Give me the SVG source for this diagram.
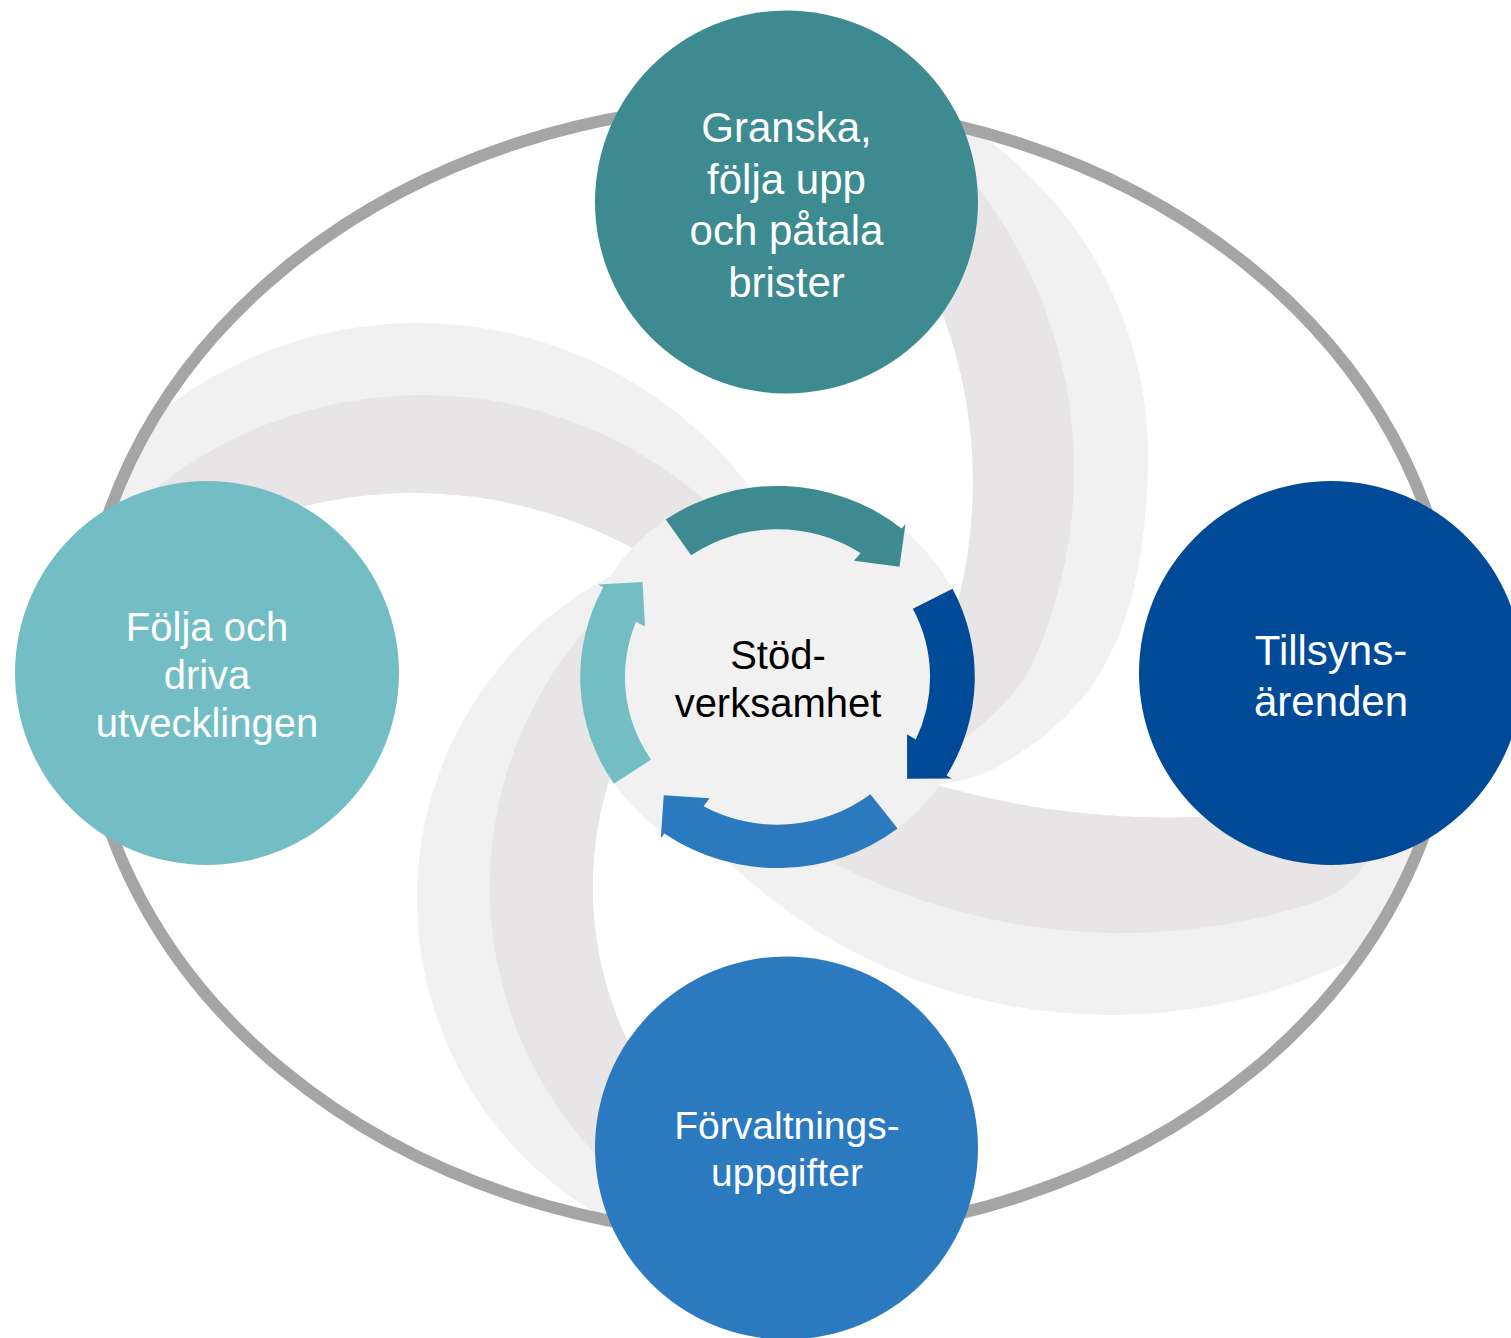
<svg xmlns="http://www.w3.org/2000/svg" width="1511" height="1338" viewBox="0 0 1511 1338">
<defs>
<style>
.lt{fill:#f1f1f1}
.dk{fill:#e7e5e6}
.lbl{font-family:"Liberation Sans",Arial,sans-serif;fill:#ffffff;text-anchor:middle}
.ctr{font-family:"Liberation Sans",Arial,sans-serif;fill:#000000;text-anchor:middle;font-size:40px}
</style>
<clipPath id="ell"><ellipse cx="768" cy="670" rx="686" ry="566"/></clipPath>
</defs>
<rect width="1511" height="1338" fill="#ffffff"/>
<g id="swirl" clip-path="url(#ell)">
<path class="lt" d="M41.8,560 A417,417 0 0 1 780,533 L700,592.4 A461,461 0 0 0 230,531.3 Z"/>
<path class="dk" d="M83.9,560 A431,431 0 0 1 760,557.3 L700,592.4 A461,461 0 0 0 230,531.3 Z"/>
<path class="lt" d="M930,105 A393,393 0 0 1 1148,470 C1143,620 1105.1,707 1000,765 Q975,782 920,786 L921.2,700 A484.6,484.6 0 0 0 933.3,290 Z"/>
<path class="dk" d="M930,134 A466.5,466.5 0 0 1 1033,662.2 Q1012.5,707.6 940,756 L890,760 L921.2,700 A484.6,484.6 0 0 0 933.3,290 Z"/>
<path class="lt" d="M700,832.8 A553.8,553.8 0 0 0 1450,898.8 L1500,760 L1400,760 L1260,812.6 A835.7,835.7 0 0 1 880,766.4 Z"/>
<path class="dk" d="M760,818 A625.6,625.6 0 0 0 1322,900 Q1365,880 1375,840 L1260,812.6 A835.7,835.7 0 0 1 880,766.4 Z"/>
<path class="lt" d="M640,561.9 A365.8,365.8 0 0 0 640,1235.5 L680,1121.4 A358,358 0 0 1 680,652.8 Z"/>
<path class="dk" d="M680,550.5 A391.9,391.9 0 0 0 680,1222.5 L680,1121.4 A358,358 0 0 1 680,652.8 Z"/>
</g>
<ellipse id="frame" cx="768" cy="670" rx="686" ry="566" fill="none" stroke="#a5a5a5" stroke-width="12"/>
<ellipse id="hub-disc" cx="777.5" cy="677" rx="197" ry="191" fill="#f1f1f1"/>
<g id="connectors">
<path fill="#3d8b90" transform="translate(777.5 677) scale(1.017 0.985) rotate(-43)" d="M28.68,-191.87 A194,194 0 0 1 192.11,-27 L198.05,-27.83 L164,0 L135.54,-35.05 L145.55,-36.29 A150,150 0 0 0 22.17,-148.35 Z"/>
<path fill="#004a98" transform="translate(777.5 677) scale(1.017 0.985) rotate(39)" d="M77.36,-177.91 A194,194 0 0 1 192.11,-27 L198.05,-27.83 L164,0 L135.54,-35.05 L145.55,-36.29 A150,150 0 0 0 59.81,-137.56 Z"/>
<path fill="#2b79be" transform="translate(777.5 677) scale(1.017 0.985) rotate(133)" d="M32.02,-191.34 A194,194 0 0 1 192.11,-27 L198.05,-27.83 L164,0 L135.54,-35.05 L145.55,-36.29 A150,150 0 0 0 24.76,-147.94 Z"/>
<path fill="#73bec4" transform="translate(777.5 677) scale(1.017 0.985) rotate(216)" d="M66.35,-182.3 A194,194 0 0 1 192.11,-27 L198.05,-27.83 L164,0 L135.54,-35.05 L145.55,-36.29 A150,150 0 0 0 51.3,-140.95 Z"/>
</g>
<g id="node-granska">
<circle cx="786.5" cy="202" r="191.5" fill="#3d8b90"/>
<text class="lbl" font-size="42" x="786.5" y="142">Granska,</text>
<text class="lbl" font-size="42" x="786.5" y="193.5">följa upp</text>
<text class="lbl" font-size="42" x="786.5" y="245">och påtala</text>
<text class="lbl" font-size="42" x="786.5" y="296.5">brister</text>
</g>
<g id="node-tillsyn">
<circle cx="1331" cy="673" r="192" fill="#004a98"/>
<text class="lbl" font-size="42" x="1331" y="665">Tillsyns-</text>
<text class="lbl" font-size="42" x="1331" y="716">ärenden</text>
</g>
<g id="node-forvaltning">
<circle cx="786.5" cy="1148" r="191.5" fill="#2b79be"/>
<text class="lbl" font-size="39" x="787" y="1139">Förvaltnings-</text>
<text class="lbl" font-size="39" x="787" y="1186">uppgifter</text>
</g>
<g id="node-utveckling">
<circle cx="207" cy="673" r="192" fill="#73bec4"/>
<text class="lbl" font-size="40" x="207" y="641">Följa och</text>
<text class="lbl" font-size="40" x="207" y="689">driva</text>
<text class="lbl" font-size="40" x="207" y="737">utvecklingen</text>
</g>
<g id="node-stod">
<text class="ctr" x="778" y="669">Stöd-</text>
<text class="ctr" x="778" y="717">verksamhet</text>
</g>
</svg>
